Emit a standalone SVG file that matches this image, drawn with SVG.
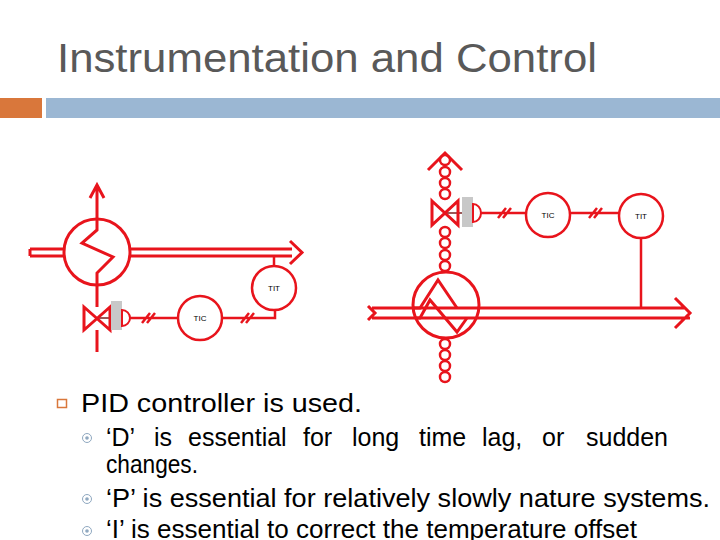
<svg xmlns="http://www.w3.org/2000/svg" width="720" height="540" viewBox="0 0 720 540">
<style>
.p{fill:none;stroke:#e8141c;stroke-width:3}
.t{fill:none;stroke:#e8141c;stroke-width:2.5}
.c{fill:#fff;stroke:#e8141c;stroke-width:2.5}
.ch{fill:none;stroke:#e8141c;stroke-width:2.5}
.lbl{font-family:"Liberation Sans",Arial,sans-serif;font-size:8px;fill:#000;text-anchor:middle}
.body{font-family:"Liberation Sans",Arial,sans-serif;fill:#000;font-size:25px}
</style>
<rect width="720" height="540" fill="#fff"/>
<text x="57" y="72" font-family="'Liberation Sans',Arial,sans-serif" font-size="40" fill="#595959" textLength="540" lengthAdjust="spacingAndGlyphs">Instrumentation and Control</text>
<rect x="0" y="98" width="42" height="20" fill="#d9773b"/>
<rect x="46" y="98" width="674" height="20" fill="#9bb7d3"/>

<g id="connectors">
<path class="p" d="M97 218V188M90 198L97 185L104 198"/>
<path class="p" d="M30 249H64M30 256H64M30 249V256"/>
<path class="p" d="M130 249H292M130 256H292M290 241L302 252.5L290 264"/>
<path class="p" d="M97 220V230L82 243L113 257L97 273V285"/>
<path class="p" d="M97 285V307M97 330V352"/>
<path d="M97 318H122" stroke="#7a2020" stroke-width="1.5"/>
<path class="t" d="M130 318H178M142 323L150 313M147 323L155 313"/>
<path class="t" d="M222 318H275V305M241 323L249 313M246 323L254 313"/>
<path class="t" d="M274 266V256"/>
<path class="p" d="M428 170L445 153L462 170"/>
<path class="p" d="M372 308H685M372 318H690M675 298L690 313L675 328M368 306L375 313L368 320"/>
<path class="t" d="M641 238V308"/>
<path class="t" d="M480 213H526M498 218L506 208M503 218L511 208"/>
<path class="t" d="M570 213H619M589 218L597 208M594 218L602 208"/>
<path d="M445 213H462" stroke="#7a2020" stroke-width="1.5"/>
<path class="p" d="M413 308H420L438 280L457 308M415 318H420L430 300L457 332L467 318"/>
</g>

<g id="hx1"><circle class="p" cx="97" cy="252" r="33"/></g>
<g id="valve1">
<path d="M84 307L110 330V307L84 330Z" fill="none" stroke="#e8141c" stroke-width="3"/>
<rect x="111" y="301" width="11" height="29" fill="#c8c8c8"/>
<path d="M122 310A8 8 0 0 1 122 326Z" fill="#fff" stroke="#e8141c" stroke-width="2"/>
</g>
<g id="tic1"><circle class="c" cx="200" cy="318" r="22"/><text class="lbl" x="200" y="321">TIC</text></g>
<g id="tit1"><circle class="c" cx="274" cy="288" r="22"/><text class="lbl" x="274" y="291">TIT</text></g>

<g id="hx2"><circle class="p" cx="446" cy="305" r="33"/></g>
<g id="chain">
<circle class="ch" cx="445" cy="160" r="5"/><circle class="ch" cx="445" cy="172" r="5"/><circle class="ch" cx="445" cy="183" r="5"/><circle class="ch" cx="445" cy="194" r="5"/>
<circle class="ch" cx="445" cy="232" r="5"/><circle class="ch" cx="445" cy="243" r="5"/><circle class="ch" cx="445" cy="255" r="5"/><circle class="ch" cx="445" cy="266" r="5"/>
<circle class="ch" cx="445" cy="344" r="5"/><circle class="ch" cx="445" cy="355" r="5"/><circle class="ch" cx="445" cy="366" r="5"/><circle class="ch" cx="445" cy="377" r="5"/>
</g>
<g id="valve2">
<path d="M432 201L458 225V201L432 225Z" fill="none" stroke="#e8141c" stroke-width="3"/>
<rect x="462" y="197" width="11" height="30" fill="#c8c8c8"/>
<path d="M473 204A8 9 0 0 1 473 222Z" fill="#fff" stroke="#e8141c" stroke-width="2"/>
</g>
<g id="tic2"><circle class="c" cx="548" cy="215" r="22"/><text class="lbl" x="548" y="218">TIC</text></g>
<g id="tit2"><circle class="c" cx="641" cy="216" r="22"/><text class="lbl" x="641" y="219">TIT</text></g>

<g id="text">
<rect x="57.5" y="399.5" width="9" height="8" fill="none" stroke="#d9773b" stroke-width="1.5"/>
<text class="body" x="81" y="412" style="font-size:26px" textLength="281" lengthAdjust="spacingAndGlyphs">PID controller is used.</text>
<g fill="none" stroke="#8fa8c0" stroke-width="1"><circle cx="87" cy="438" r="4.5"/><circle cx="87" cy="499" r="4.5"/><circle cx="87" cy="531" r="4.5"/></g>
<g fill="#8fa8c0"><circle cx="87" cy="438" r="1.8"/><circle cx="87" cy="499" r="1.8"/><circle cx="87" cy="531" r="1.8"/></g>
<text class="body" y="446"><tspan x="106">‘D’</tspan><tspan x="154">is</tspan><tspan x="188">essential</tspan><tspan x="303">for</tspan><tspan x="352">long</tspan><tspan x="419">time</tspan><tspan x="482">lag,</tspan><tspan x="542">or</tspan><tspan x="586">sudden</tspan></text>
<text class="body" x="106" y="473" textLength="92" lengthAdjust="spacingAndGlyphs">changes.</text>
<text class="body" x="106" y="507" textLength="604" lengthAdjust="spacingAndGlyphs">‘P’ is essential for relatively slowly nature systems.</text>
<text class="body" x="106" y="538" textLength="531" lengthAdjust="spacingAndGlyphs">‘I’ is essential to correct the temperature offset</text>
</g>
</svg>
